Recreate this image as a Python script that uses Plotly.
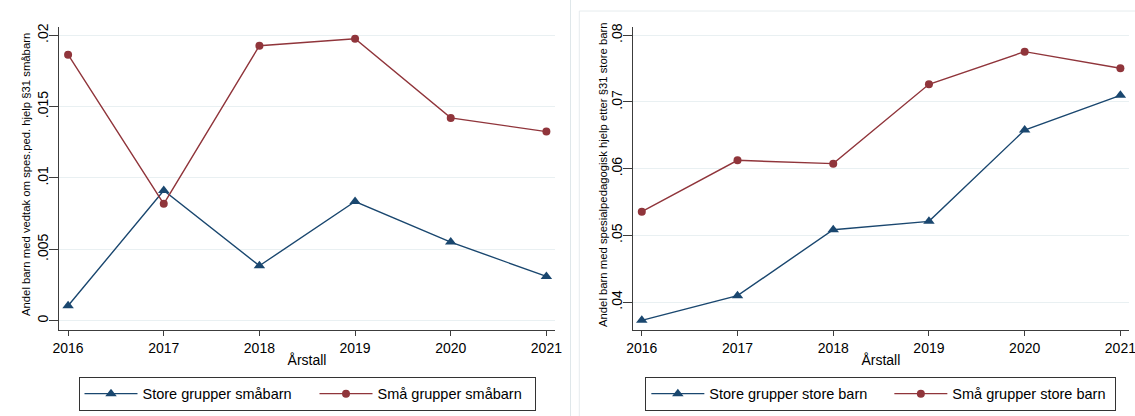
import plotly.graph_objects as go

years = [2016, 2017, 2018, 2019, 2020, 2021]

# Left panel: småbarn
store_smabarn = [0.00105, 0.00912, 0.00385, 0.00835, 0.00551, 0.00310]
sma_smabarn = [0.01864, 0.00819, 0.01927, 0.01976, 0.01421, 0.01325]

# Right panel: store barn
store_storebarn = [0.03725, 0.04095, 0.05085, 0.05210, 0.06580, 0.07100]
sma_storebarn = [0.05355, 0.06125, 0.06075, 0.07265, 0.07755, 0.07505]

left_yticks = [0, 0.005, 0.01, 0.015, 0.02]
left_yticklabels = ["0", ".005", ".01", ".015", ".02"]
right_yticks = [0.04, 0.05, 0.06, 0.07, 0.08]
right_yticklabels = [".04", ".05", ".06", ".07", ".08"]

labels_left = ["Store grupper småbarn", "Små grupper småbarn"]
labels_right = ["Store grupper store barn", "Små grupper store barn"]
ytitle_left = "Andel barn med vedtak om spes.ped. hjelp §31 småbarn"
ytitle_right = "Andel barn med spesialpedagogisk hjelp etter §31 store barn"
xtitle = "Årstall"

BLUE = "#1a476f"
RED = "#90353b"
GRID = "#e9f0f2"
AXIS = "#3c3c3c"
FONT = "Liberation Sans, Arial, sans-serif"

# Body margin is removed by the post script, so work in screen pixels directly.
OFF = 0
W, H = 1135, 416

fig = go.Figure()

def add_series(x, y, name, color, symbol, size, xa, ya, legend, lw):
    fig.add_trace(go.Scatter(
        x=x, y=y, name=name, mode="lines+markers",
        line=dict(color=color, width=1.4),
        marker=dict(color=color, symbol=symbol, size=size),
        xaxis=xa, yaxis=ya, legend=legend, legendwidth=lw,
    ))

add_series(years, store_smabarn, labels_left[0], BLUE, "triangle-up", 10, "x", "y", "legend", 167)
add_series(years, sma_smabarn, labels_left[1], RED, "circle", 8, "x", "y", "legend", 152)
add_series(years, store_storebarn, labels_right[0], BLUE, "triangle-up", 10, "x2", "y2", "legend2", 175)
add_series(years, sma_storebarn, labels_right[1], RED, "circle", 8, "x2", "y2", "legend2", 158)

def px_x(p):
    return (p - OFF) / W

def px_y(p):
    return 1 - (p - OFF) / H

ydom = [px_y(329.7), px_y(26.7)]
xdom_left = [px_x(59), px_x(555)]
xdom_right = [px_x(632.7), px_x(1129)]

common_x = dict(
    tickmode="array", tickvals=years, ticktext=[str(y) for y in years],
    showgrid=False, zeroline=False, showline=True, linecolor=AXIS, linewidth=1.3,
    ticks="outside", ticklen=5, tickcolor=AXIS, tickwidth=1.2,
    tickfont=dict(family=FONT, size=14, color="#000"),
    range=[2015.905, 2021.09], automargin=False, ticklabeloverflow="allow",
    title=dict(text=xtitle, font=dict(family=FONT, size=14, color="#000"), standoff=0),
)
common_y = dict(
    showgrid=True, gridcolor=GRID, gridwidth=1, zeroline=False,
    showline=True, linecolor=AXIS, linewidth=1.3,
    ticks="outside", ticklen=9, tickcolor=AXIS, tickwidth=1.2,
    tickangle=-90, automargin=False, ticklabeloverflow="allow",
    ticklabelstandoff=-5,
    tickfont=dict(family=FONT, size=14, color="#000"),
)

legend_common = dict(
    orientation="h", y=px_y(376.7), yanchor="top",
    bordercolor="#333", borderwidth=1, bgcolor="white",
    font=dict(family=FONT, size=14.5, color="#000"),
    itemwidth=53, itemclick=False, itemdoubleclick=False,
)

title_font = dict(family=FONT, size=11.3, color="#000")
ymid = px_y(175)

fig.update_layout(
    width=W, height=H,
    margin=dict(l=0, r=0, t=0, b=0, autoexpand=False),
    paper_bgcolor="white", plot_bgcolor="white",
    showlegend=True,
    xaxis=dict(domain=xdom_left, anchor="y", **common_x),
    yaxis=dict(domain=ydom, anchor="x", range=[-0.00063, 0.0206],
               tickmode="array", tickvals=left_yticks, ticktext=left_yticklabels,
               **common_y),
    xaxis2=dict(domain=xdom_right, anchor="y2", **common_x),
    yaxis2=dict(domain=ydom, anchor="x2", range=[0.03585, 0.08129],
                tickmode="array", tickvals=right_yticks, ticktext=right_yticklabels,
                **common_y),
    legend=dict(x=sum(xdom_left) / 2, xanchor="center", **legend_common),
    legend2=dict(x=sum(xdom_right) / 2, xanchor="center", **legend_common),
    annotations=[
        dict(text=ytitle_left, textangle=-90, xref="paper", yref="paper",
             x=px_x(26), y=ymid, xanchor="center", yanchor="middle",
             showarrow=False, font=title_font),
        dict(text=ytitle_right, textangle=-90, xref="paper", yref="paper",
             x=px_x(603), y=ymid, xanchor="center", yanchor="middle",
             showarrow=False, font=title_font),
    ],
    shapes=[
        dict(type="line", xref="paper", yref="paper", x0=px_x(570.5), x1=px_x(570.5), y0=0, y1=1,
             line=dict(color="#dfe7ea", width=1)),
        dict(type="line", xref="paper", yref="paper", x0=px_x(579.3), x1=px_x(579.3), y0=0, y1=px_y(11),
             line=dict(color="#e6ecee", width=1)),
        dict(type="line", xref="paper", yref="paper", x0=px_x(579.3), x1=1, y0=px_y(11), y1=px_y(11),
             line=dict(color="#e6ecee", width=1)),
    ],
)

fig.write_html(
    "out.html",
    config={"displayModeBar": False},
    post_script="document.body.style.margin='0';document.body.style.overflow='hidden';",
)
